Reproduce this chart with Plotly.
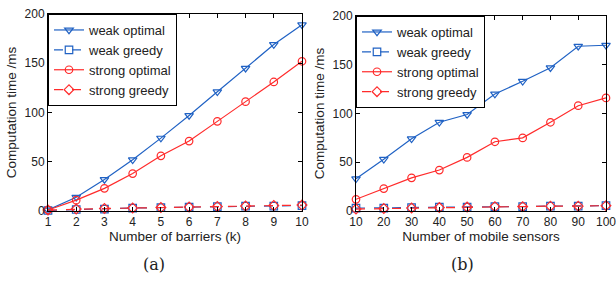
import plotly.graph_objects as go

k_vals = [1, 2, 3, 4, 5, 6, 7, 8, 9, 10]
a_weak_opt = [1, 14, 32, 52, 74, 97, 121, 145, 169, 189]
a_weak_greedy = [0.5, 1.5, 2, 3, 3.5, 4, 4.5, 5, 5, 5.5]
a_strong_opt = [1, 11, 23, 38, 56, 71, 91, 111, 131, 152]
a_strong_greedy = [1, 2, 2.5, 3, 3.5, 4, 4.5, 5, 5.5, 6]

n_vals = [10, 20, 30, 40, 50, 60, 70, 80, 90, 100]
b_weak_opt = [33, 53, 74, 91, 99, 120, 133, 147, 169, 170]
b_weak_greedy = [3, 3, 3.5, 4, 4, 4.5, 4.5, 5, 5, 5.5]
b_strong_opt = [12, 23, 34, 42, 55, 71, 75, 91, 108, 116]
b_strong_greedy = [2, 2.5, 3, 3.5, 4, 4.5, 4.5, 5, 5, 5.5]

names = ["weak optimal", "weak greedy", "strong optimal", "strong greedy"]
BLUE = "#2062c4"
RED = "#ff2b2b"
styles = [
    dict(color=BLUE, dash="solid", symbol="triangle-down-open"),
    dict(color=BLUE, dash="dash", symbol="square-open"),
    dict(color=RED, dash="solid", symbol="circle-open"),
    dict(color=RED, dash="dash", symbol="diamond-open"),
]

fig = go.Figure()

def add_panel(xv, series, xa, ya, leg):
    for nm, yv, st in zip(names, series, styles):
        fig.add_trace(go.Scatter(
            x=xv, y=yv, name=nm, mode="lines+markers", cliponaxis=False,
            xaxis=xa, yaxis=ya, legend=leg,
            line=dict(color=st["color"], dash=st["dash"], width=1.2),
            marker=dict(symbol=st["symbol"], size=7.5, color=st["color"],
                        line=dict(width=1.2, color=st["color"])),
        ))

add_panel(k_vals, [a_weak_opt, a_weak_greedy, a_strong_opt, a_strong_greedy], "x", "y", "legend")
add_panel(n_vals, [b_weak_opt, b_weak_greedy, b_strong_opt, b_strong_greedy], "x2", "y2", "legend2")

W, H = 616, 281
def fx(p): return p / W
def fy(p): return (H - p) / H

axis_common = dict(
    showline=True, linecolor="black", linewidth=1, mirror="ticks", automargin=False,
    ticks="inside", ticklen=4, tickcolor="black", showgrid=False, zeroline=False,
    ticklabeloverflow="allow",
    tickfont=dict(family="Liberation Sans, Arial", size=12, color="#222"),
)
title_font = dict(family="Liberation Sans, Arial", size=13.5, color="#222")

leg_common = dict(xanchor="left", yanchor="top", bgcolor="white",
                  bordercolor="black", borderwidth=1, tracegroupgap=0,
                  font=dict(family="Liberation Sans, Arial", size=13, color="#222"),
                  itemwidth=30)

fig.update_layout(
    width=W, height=H, margin=dict(l=0, r=0, t=0, b=0),
    paper_bgcolor="white", plot_bgcolor="white", showlegend=True,
    xaxis=dict(domain=[fx(48), fx(302)], range=[1, 10], tickvals=k_vals, anchor="y",
               title=dict(text="Number of barriers (k)", font=title_font, standoff=2), **axis_common),
    yaxis=dict(domain=[fy(211), fy(14)], range=[0, 200], tickvals=[0, 50, 100, 150, 200], anchor="x",
               title=dict(text="Computation time /ms", font=title_font, standoff=4), **axis_common),
    xaxis2=dict(domain=[fx(356), fx(606)], range=[10, 100], tickvals=n_vals, anchor="y2",
                title=dict(text="Number of mobile sensors", font=title_font, standoff=2), **axis_common),
    yaxis2=dict(domain=[fy(211), fy(16)], range=[0, 200], tickvals=[0, 50, 100, 150, 200], anchor="x2",
                title=dict(text="Computation time /ms", font=title_font, standoff=4), **axis_common),
    legend=dict(x=fx(48), y=fy(14), **leg_common),
    legend2=dict(x=fx(356), y=fy(16), **leg_common),
)

for txt, xc in [("(a)", 154), ("(b)", 462)]:
    fig.add_annotation(text=txt, x=fx(xc), y=fy(264), xref="paper", yref="paper",
                       xanchor="center", yanchor="middle",
                       showarrow=False, font=dict(family="DejaVu Serif, Liberation Serif", size=16, color="#222"))

fig.write_html("out.html", config={"displayModeBar": False},
               post_script="document.body.style.margin='0px';document.body.style.overflow='hidden';")
